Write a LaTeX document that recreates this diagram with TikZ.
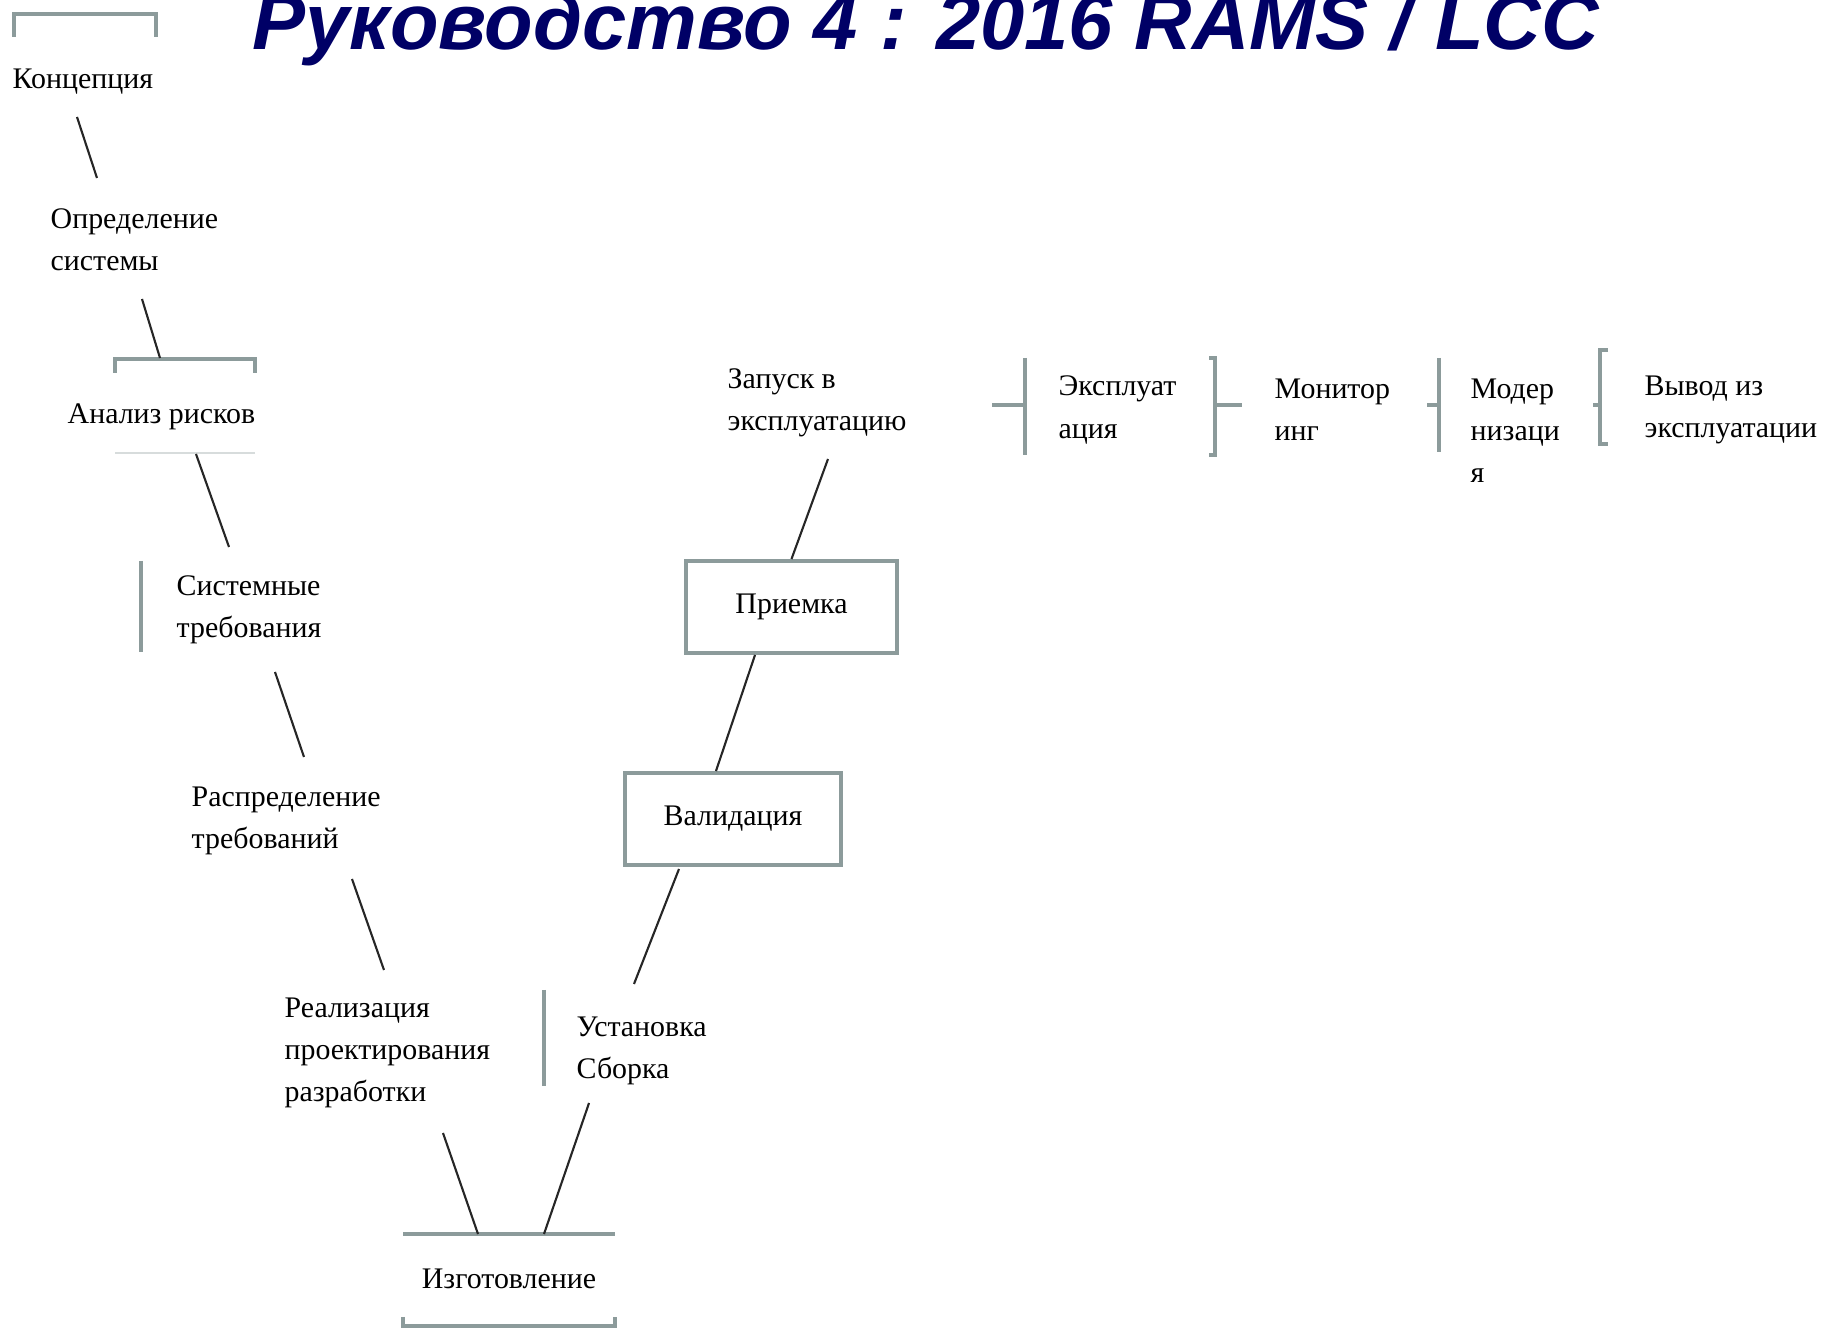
\documentclass[tikz,border=0pt]{standalone}
\usepackage{fontspec}
\setmainfont{Liberation Serif}
\newfontfamily\headfont{Liberation Sans}
\definecolor{headblue}{RGB}{0,0,102}
\definecolor{brk}{RGB}{140,155,155}
\begin{document}
\begin{tikzpicture}[x=0.01cm,y=-0.01cm,
  lbl/.style={inner sep=0pt, align=left, font=\fontsize{8.5}{12}\selectfont},
  conn/.style={line width=0.6pt, black!85},
  brack/.style={line width=1pt, brk},
  stagebox/.style={draw=brk, line width=1.1pt, fill=white, inner sep=0pt,
    minimum width=2.16cm, minimum height=0.92cm, font=\fontsize{8.5}{12}\selectfont}]
\useasboundingbox (0,0) rectangle (1841,1328);
\clip (0,0) rectangle (1841,1328);

% heading
\node[anchor=base west, inner sep=0pt, text=headblue,
  font=\headfont\fontsize{22.6}{27}\selectfont\bfseries\itshape] (head) at (252,50)
  {Руководство 4 : 2016 RAMS / LCC};

% left branch of the V
\node[lbl, anchor=west] (konc)   at (12,82)   {Концепция};
\node[lbl, anchor=west] (opr)    at (50,240)  {Определение\\системы};
\node[lbl, anchor=west] (risk)   at (67,417)  {Анализ рисков};
\node[lbl, anchor=west] (sysreq) at (176,610) {Системные\\требования};
\node[lbl, anchor=west] (raspr)  at (191,821) {Распределение\\требований};
\node[lbl, anchor=west] (real)   at (284,1053){Реализация\\проектирования\\разработки};
\node[lbl]              (izg)    at (509,1279){Изготовление};

% right branch of the V
\node[lbl, anchor=west] (ust)    at (576,1051){Установка\\Сборка};
\node[stagebox]         (valid)  at (733,819) {Валидация};
\node[stagebox, minimum width=2.11cm] (priem) at (791.5,607) {Приемка};
\node[lbl, anchor=west] (zapusk) at (727,403) {Запуск в\\эксплуатацию};

% operation row
\node[lbl, anchor=west] (expl)   at (1058,410) {Эксплуат\\ация};
\node[lbl, anchor=west] (monit)  at (1274,410) {Монитор\\инг};
\node[lbl, anchor=west] (moder)  at (1470,431) {Модер\\низаци\\я};
\node[lbl, anchor=west] (vyvod)  at (1644,410) {Вывод из\\эксплуатации};

% bracket marks around the stages
\draw[brack] (14,37) -- (14,14) -- (156,14) -- (156,37);
\draw[brack] (115,373) -- (115,359) -- (255,359) -- (255,373);
\draw[brk!35, line width=0.5pt] (115,453) -- (255,453);
\draw[brack] (141,561) -- (141,652);
\draw[brack] (403,1234) -- (615,1234);
\draw[brack] (403,1317) -- (403,1326) -- (615,1326) -- (615,1317);
\draw[brack] (544,990) -- (544,1086);
\draw[brack] (992,405) -- (1025,405);
\draw[brack] (1025,358) -- (1025,455);
\draw[brack] (1209,358) -- (1215,358) -- (1215,455) -- (1209,455);
\draw[brack] (1215,405) -- (1242,405);
\draw[brack] (1427,405) -- (1439,405);
\draw[brack] (1439,358) -- (1439,452);
\draw[brack] (1608,350) -- (1600,350) -- (1600,444) -- (1608,444);
\draw[brack] (1593,405) -- (1600,405);

% connector end points
\coordinate (a1) at (77,117);   \coordinate (a2) at (97,178);
\coordinate (b1) at (142,299);  \coordinate (b2) at (160,358);
\coordinate (c1) at (196,454);  \coordinate (c2) at (229,547);
\coordinate (d1) at (275,672);  \coordinate (d2) at (304,757);
\coordinate (e1) at (352,879);  \coordinate (e2) at (384,970);
\coordinate (f1) at (443,1133); \coordinate (f2) at (478,1234);
\coordinate (g1) at (544,1234); \coordinate (g2) at (587,1109); \coordinate (g3) at (589,1103);
\coordinate (h1) at (634,984);  \coordinate (h2) at (679,869);
\coordinate (i2) at (755,655);
\coordinate (j2) at (828,459);

% connectors
\draw[conn] (a1) -- (a2);
\draw[conn] (b1) -- (b2);
\draw[conn] (c1) -- (c2);
\draw[conn] (d1) -- (d2);
\draw[conn] (e1) -- (e2);
\draw[conn] (f1) -- (f2);
\draw[conn] (g1) -- (g2) -- (g3);
\draw[conn] (h1) -- (h2);
\draw[conn] ([xshift=-0.17cm]valid.north) -- (i2);
\draw[conn] (priem.north) -- (j2);
\end{tikzpicture}
\end{document}
